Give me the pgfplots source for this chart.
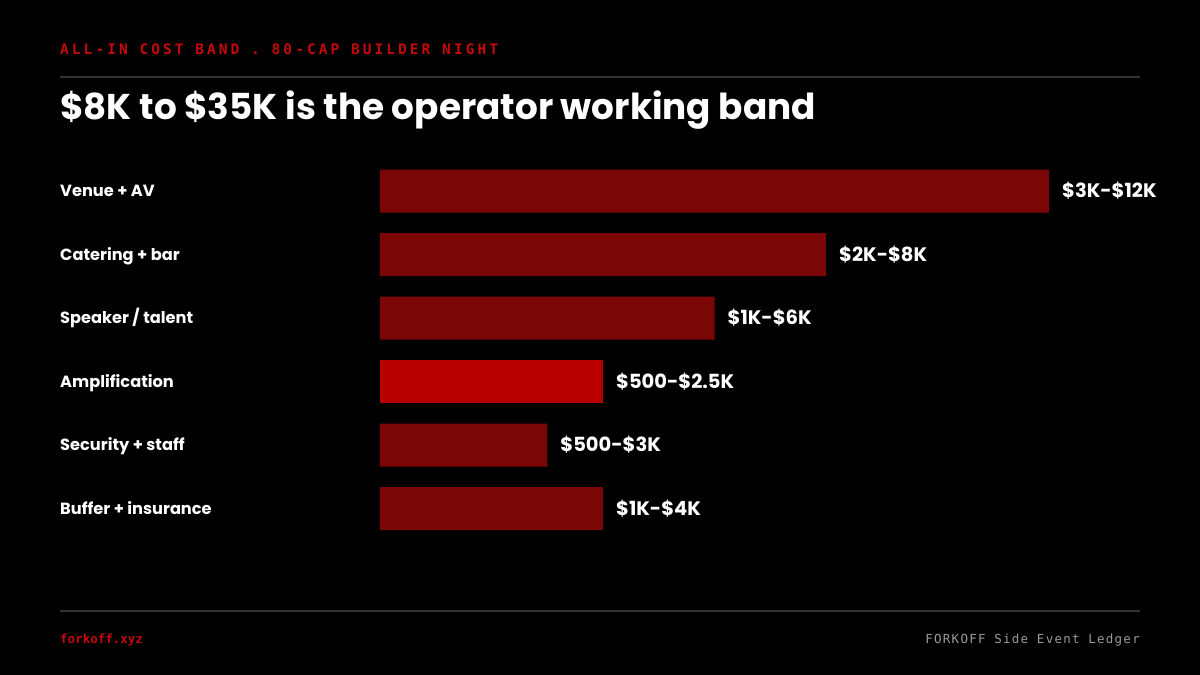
\documentclass[border=0pt]{standalone}
\usepackage{pgfplots}
\pgfplotsset{compat=1.18}
\usepackage{fontspec}
\setmainfont{Poppins}
\newfontfamily\monofont{DejaVu Sans Mono}
\definecolor{bardark}{HTML}{7A0606}
\definecolor{barhi}{HTML}{B80000}
\definecolor{hdred}{HTML}{C40A0A}
\definecolor{rulegray}{HTML}{333333}
\definecolor{footgray}{HTML}{9A9A9A}
\begin{document}
\begin{tikzpicture}[x=1pt,y=1pt]
\fill[black] (0,0) rectangle (1200,675);
\useasboundingbox (0,0) rectangle (1200,675);
\draw[rulegray, line width=1.2pt] (60,598) -- (1140,598);
\draw[rulegray, line width=1.2pt] (60,64) -- (1140,64);
\node[anchor=base west, inner sep=0, text=hdred] at (60,620)
  {\monofont\bfseries\addfontfeature{LetterSpace=21}\fontsize{14.5}{14.5}\selectfont ALL-IN COST BAND . 80-CAP BUILDER NIGHT};
\node[anchor=base west, inner sep=0, text=white] at (60,555)
  {\bfseries\fontsize{35.8}{35.8}\selectfont \$8K to \$35K is the operator working band};
\node[anchor=base west, inner sep=0, text=hdred] at (60,31)
  {\monofont\bfseries\fontsize{12.5}{12.5}\selectfont forkoff.xyz};
\node[anchor=base east, inner sep=0, text=footgray] at (1140,31)
  {\monofont\addfontfeature{LetterSpace=10}\fontsize{12.5}{12.5}\selectfont FORKOFF Side Event Ledger};
\begin{axis}[
  at={(380pt,134.75pt)}, anchor=south west, scale only axis,
  width=669pt, height=381pt,
  xmin=0, xmax=12, ymin=-0.5, ymax=5.5, y dir=reverse,
  xbar, bar width=43pt, bar shift=0pt,
  axis line style={draw=none}, major tick length=0pt,
  xtick=\empty, ytick={0,1,2,3,4,5},
  yticklabels={Venue + AV, Catering + bar, Speaker / talent, Amplification, Security + staff, Buffer + insurance},
  yticklabel style={anchor=base west, xshift=-320pt, yshift=-5.6pt, inner sep=0pt, text=white, font=\bfseries\fontsize{16.2}{16.2}\selectfont},
  nodes near coords, point meta=explicit symbolic,
  nodes near coords style={anchor=base west, inner sep=0pt, xshift=13pt, yshift=-6.8pt, text=white, font=\bfseries\fontsize{19.5}{19.5}\selectfont},
  clip=false,
]
\addplot[fill=bardark, draw=none] coordinates {
  (12,0) [\$3K-\$12K]
  (8,1) [\$2K-\$8K]
  (6,2) [\$1K-\$6K]
  (3,4) [\$500-\$3K]
  (4,5) [\$1K-\$4K]
};
\addplot[fill=barhi, draw=none] coordinates {
  (4,3) [\$500-\$2.5K]
};
\end{axis}
\end{tikzpicture}
\end{document}
